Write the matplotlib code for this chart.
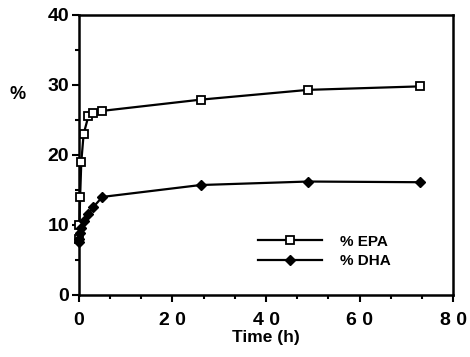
import matplotlib
matplotlib.use("Agg")
import matplotlib.pyplot as plt
from matplotlib.ticker import MultipleLocator

time_h = [0, 0.1, 0.25, 0.5, 1, 2, 3, 5, 26, 49, 73]
epa = [8.0, 10.0, 14.0, 19.0, 23.0, 25.5, 26.0, 26.3, 27.9, 29.3, 29.8]
dha = [7.5, 8.0, 8.8, 9.5, 10.5, 11.5, 12.5, 14.0, 15.7, 16.2, 16.1]
xticks = [0, 20, 40, 60, 80]
xticklabels = ["0", "2 0", "4 0", "6 0", "8 0"]
yticks = [0, 10, 20, 30, 40]

plt.rcParams['font.family'] = ['Liberation Sans', 'DejaVu Sans']
plt.rcParams['font.weight'] = 'bold'

fig = plt.figure(figsize=(4.7, 3.57), dpi=100)
ax = fig.add_axes([0.168, 0.174, 0.796, 0.784])

ax.plot(time_h, epa, color='black', lw=1.6, marker='s', ms=6,
        mfc='white', mec='black', mew=1.3, label='% EPA', clip_on=False, zorder=3)
ax.plot(time_h, dha, color='black', lw=1.6, marker='D', ms=5,
        mfc='black', mec='black', label='% DHA', clip_on=False, zorder=3)

ax.set_xlim(0, 80)
ax.set_ylim(0, 40)
ax.set_xticks(xticks)
ax.set_xticklabels(xticklabels)
ax.set_yticks(yticks)
ax.xaxis.set_minor_locator(MultipleLocator(20/3))
ax.yaxis.set_minor_locator(MultipleLocator(5))
ax.tick_params(axis='both', which='major', direction='out', length=5, width=1.5,
               labelsize=14, pad=2)
ax.tick_params(axis='both', which='minor', direction='out', length=3, width=1.5)
ax.tick_params(axis='x', which='major', pad=7)
for s in ax.spines.values():
    s.set_linewidth(1.8)

ax.set_xlabel('Time (h)', fontsize=12.5, fontweight='bold', labelpad=1)
fig.text(0.038, 0.735, '%', fontsize=13, fontweight='bold', ha='center', va='center')

ax.legend(loc='center left', bbox_to_anchor=(0.478, 0.155), frameon=False,
          fontsize=11, handlelength=4.2, handletextpad=1.2, labelspacing=0.35,
          borderpad=0, borderaxespad=0)

fig.savefig('out.png', dpi=100)
